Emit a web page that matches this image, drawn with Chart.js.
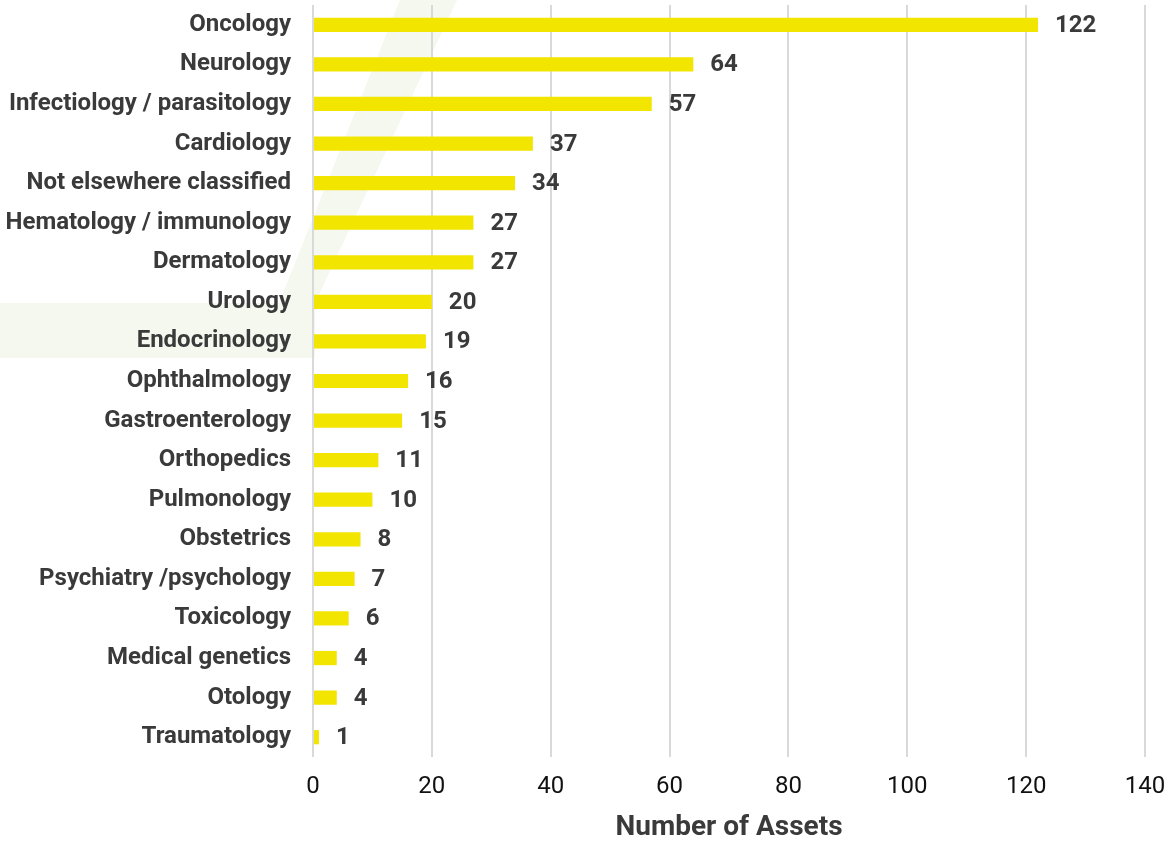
<!DOCTYPE html>
<html lang="en">
<head>
    <meta charset="UTF-8">
    <title>Number of Assets by therapeutic area</title>
    <script src="https://cdn.jsdelivr.net/npm/chart.js"></script>
    <style>
        html, body { margin: 0; padding: 0; background: #fff; }
        .wrap { position: relative; width: 1171px; height: 843px; }
        /* faint watermark behind the chart */
        .mark {
            position: absolute; left: 0; top: 0; width: 1171px; height: 843px;
            background: #f4f8ee;
            clip-path: polygon(400px 0, 457px 0, 315px 303px, 315px 358px, 0 358px, 0 303px, 279px 303px);
        }
        canvas { position: absolute; left: 0; top: 0; }
    </style>
</head>
<body>
    <div class="wrap">
        <div class="mark"></div>
        <canvas id="assetsChart" width="1171" height="843"></canvas>
    </div>

    <script>
        // Данные с картинки
        const areas = [
            'Oncology', 'Neurology', 'Infectiology / parasitology', 'Cardiology',
            'Not elsewhere classified', 'Hematology / immunology', 'Dermatology',
            'Urology', 'Endocrinology', 'Ophthalmology', 'Gastroenterology',
            'Orthopedics', 'Pulmonology', 'Obstetrics', 'Psychiatry /psychology',
            'Toxicology', 'Medical genetics', 'Otology', 'Traumatology'
        ];
        const assets = [122, 64, 57, 37, 34, 27, 27, 20, 19, 16, 15, 11, 10, 8, 7, 6, 4, 4, 1];
        const xTicks = [0, 20, 40, 60, 80, 100, 120, 140];

        // value labels at the end of each bar
        const valueLabels = {
            id: 'valueLabels',
            afterDatasetsDraw(chart) {
                const ctx = chart.ctx;
                const meta = chart.getDatasetMeta(0);
                ctx.save();
                ctx.font = 'bold 24px Roboto';
                ctx.fillStyle = '#3a3a3a';
                ctx.textAlign = 'left';
                ctx.textBaseline = 'middle';
                meta.data.forEach((bar, i) => {
                    ctx.fillText(assets[i], bar.x + 17, bar.y + 1);
                });
                ctx.restore();
            }
        };

        const ctx = document.getElementById('assetsChart').getContext('2d');
        new Chart(ctx, {
            type: 'bar',
            data: {
                labels: areas,
                datasets: [{
                    data: assets,
                    backgroundColor: '#f2e500',
                    barPercentage: 0.36,
                    categoryPercentage: 1
                }]
            },
            options: {
                indexAxis: 'y',
                responsive: false,
                animation: false,
                layout: { padding: { top: 5, right: 26, left: 0, bottom: 0 } },
                plugins: {
                    legend: { display: false },
                    tooltip: { enabled: false }
                },
                scales: {
                    x: {
                        min: 0,
                        max: 140,
                        afterBuildTicks(scale) {
                            scale.ticks = xTicks.map(v => ({ value: v }));
                        },
                        afterFit(scale) {
                            scale.height = 86;
                            scale.paddingLeft = 0;
                            scale.paddingRight = 0;
                        },
                        grid: { color: '#d9d9d9', lineWidth: 2, drawTicks: false },
                        border: { display: false },
                        ticks: {
                            padding: 16,
                            color: '#111',
                            font: { family: 'Roboto', size: 24 }
                        },
                        title: {
                            display: true,
                            text: 'Number of Assets',
                            color: '#3a3a3a',
                            font: { family: 'Roboto', size: 28, weight: 'bold', lineHeight: 1.1 },
                            padding: { top: 0, bottom: 0 }
                        }
                    },
                    y: {
                        afterFit(scale) {
                            scale.width = 313;
                            scale.paddingTop = 0;
                            scale.paddingBottom = 0;
                        },
                        grid: { display: false, drawTicks: false },
                        border: { display: false },
                        ticks: {
                            padding: 22,
                            color: '#3a3a3a',
                            font: { family: 'Roboto', size: 24, weight: 'bold' }
                        }
                    }
                }
            },
            plugins: [valueLabels]
        });
    </script>
</body>
</html>
